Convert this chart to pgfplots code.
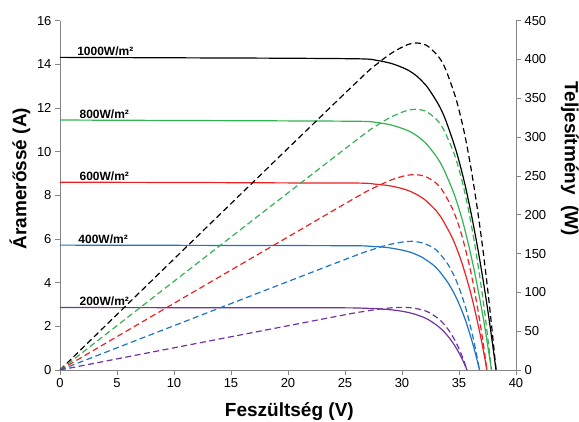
\documentclass[border=0pt]{standalone}
\usepackage{pgfplots}
\usepackage{pgfplotstable}
\pgfplotsset{compat=1.18}
\usepackage{fontspec}
\setmainfont{Liberation Sans}

\definecolor{cblack}{RGB}{0,0,0}
\definecolor{cgreen}{RGB}{50,178,80}
\definecolor{cred}{RGB}{238,32,36}
\definecolor{cblue}{RGB}{28,116,196}
\definecolor{cpurple}{RGB}{112,52,160}
\definecolor{axgray}{RGB}{134,134,134}

% V (V), I (A), P (W)
\pgfplotstableread{
V I P
0 14.32 0
10 14.30 143.0
20 14.28 285.6
26.47 14.25 377.2
27.80 14.18 394.2
29.14 14.03 408.8
30.48 13.75 419.1
31.30 13.46 421.3
31.87 13.17 419.7
32.32 12.89 416.6
33.19 12.17 403.9
33.82 11.46 387.6
34.76 10.02 348.3
35.48 8.59 304.8
36.07 7.16 258.3
36.59 5.73 209.7
37.06 4.30 159.4
37.49 2.86 107.2
37.88 1.43 54.2
38.25 0 0
}\tblk

\pgfplotstableread{
V I P
0 11.45 0
10 11.43 114.3
20 11.41 228.2
26.41 11.39 300.8
27.74 11.34 314.6
29.07 11.22 326.2
30.41 10.99 334.2
31.22 10.76 335.9
31.79 10.53 334.7
32.23 10.31 332.3
33.08 9.73 321.9
33.69 9.16 308.6
34.60 8.02 277.5
35.29 6.87 242.4
35.84 5.73 205.4
36.33 4.58 166.4
36.76 3.44 126.5
37.16 2.29 85.1
37.51 1.15 43.1
37.85 0 0
}\tgrn

\pgfplotstableread{
V I P
0 8.60 0
10 8.59 85.9
20 8.57 171.4
26.35 8.56 225.6
27.68 8.51 235.6
29.01 8.43 244.6
30.34 8.26 250.6
31.14 8.08 251.6
31.70 7.91 250.7
32.14 7.74 248.8
32.97 7.31 241.0
33.56 6.88 230.9
34.44 6.02 207.3
35.09 5.16 181.1
35.61 4.30 153.1
36.07 3.44 124.1
36.46 2.58 94.1
36.82 1.72 63.3
37.15 0.86 31.9
37.45 0 0
}\tred

\pgfplotstableread{
V I P
0 5.72 0
10 5.71 57.1
20 5.70 114.0
26.05 5.69 148.2
27.37 5.66 154.9
28.70 5.61 161.0
30.02 5.49 164.8
30.82 5.38 165.8
31.37 5.26 165.0
31.80 5.15 163.8
32.62 4.86 158.5
33.19 4.58 152.0
34.03 4.00 136.1
34.65 3.43 118.8
35.14 2.86 100.5
35.56 2.29 81.4
35.91 1.72 61.8
36.24 1.14 41.3
36.53 0.57 20.8
36.80 0 0
}\tblu

\pgfplotstableread{
V I P
0 2.86 0
10 2.855 28.6
20 2.85 57.0
25.29 2.846 72.0
26.61 2.831 75.3
27.93 2.803 78.3
29.25 2.746 80.3
30.04 2.688 80.7
30.58 2.631 80.5
31.01 2.574 79.8
31.81 2.431 77.3
32.37 2.288 74.1
33.17 2.002 66.4
33.75 1.716 57.9
34.21 1.43 48.9
34.59 1.144 39.6
34.92 0.858 30.0
35.21 0.572 20.1
35.47 0.286 10.1
35.70 0 0
}\tpur

\pgfplotsset{
  common/.style={
    scale only axis, width=456pt, height=349.3pt,
    xmin=0, xmax=40,
    axis line style={draw=axgray, line width=0.8pt},
    tick style={draw=axgray, line width=0.8pt},
    tick align=outside, major tick length=5pt,
    ticklabel style={font=\fontsize{13}{15}\selectfont},
    /pgf/number format/assume math mode=true,
    label style={font=\bfseries\fontsize{19}{22}\selectfont},
  },
  iv/.style={smooth, line width=1.2pt},
  pw/.style={smooth, line width=1.2pt, dash pattern=on 6pt off 3.5pt},
}
\tikzset{
  lbl/.style={anchor=base west, inner sep=0pt, yshift=2pt,
    font=\bfseries\fontsize{12}{14}\selectfont},
}

\begin{document}
\begin{tikzpicture}
\begin{axis}[common,
    axis x line*=bottom, axis y line*=left,
    ymin=0, ymax=16, ytick={0,2,...,16}, xtick={0,5,...,40},
    xlabel={Feszültség (V)}, ylabel={Áramerőssé (A)},
    xlabel style={at={(axis description cs:0.503,-0.12)}, anchor=center},
    ylabel style={at={(axis description cs:-0.0877,0.548)}, anchor=center},
  ]
  \addplot[iv, cblack] table[x=V, y=I] {\tblk};
  \addplot[iv, cgreen] table[x=V, y=I] {\tgrn};
  \addplot[iv, cred] table[x=V, y=I] {\tred};
  \addplot[iv, cblue] table[x=V, y=I] {\tblu};
  \addplot[iv, cpurple] table[x=V, y=I] {\tpur};
  \node[lbl] at (axis cs:1.5,14.32) {1000W/m²};
  \node[lbl] at (axis cs:1.7,11.45) {800W/m²};
  \node[lbl] at (axis cs:1.7,8.60) {600W/m²};
  \node[lbl] at (axis cs:1.6,5.72) {400W/m²};
  \node[lbl] at (axis cs:1.7,2.86) {200W/m²};
  \coordinate (bl) at (rel axis cs:0,0);
  \coordinate (tr) at (rel axis cs:1,1);
\end{axis}
\begin{axis}[common,
    axis x line=none, axis y line*=right,
    ymin=0, ymax=450, ytick={0,50,...,450},
    ylabel={Teljesítmény~ (W)},
    ylabel style={at={(axis description cs:1.118,0.605)}, anchor=center, rotate=180},
  ]
  \addplot[pw, cblack] table[x=V, y=P] {\tblk};
  \addplot[pw, cgreen] table[x=V, y=P] {\tgrn};
  \addplot[pw, cred] table[x=V, y=P] {\tred};
  \addplot[pw, cblue] table[x=V, y=P] {\tblu};
  \addplot[pw, cpurple] table[x=V, y=P] {\tpur};
\end{axis}
\pgfresetboundingbox
\path ([shift={(-60pt,-52pt)}]bl) rectangle ([shift={(63pt,20.7pt)}]tr);
\end{tikzpicture}
\end{document}
